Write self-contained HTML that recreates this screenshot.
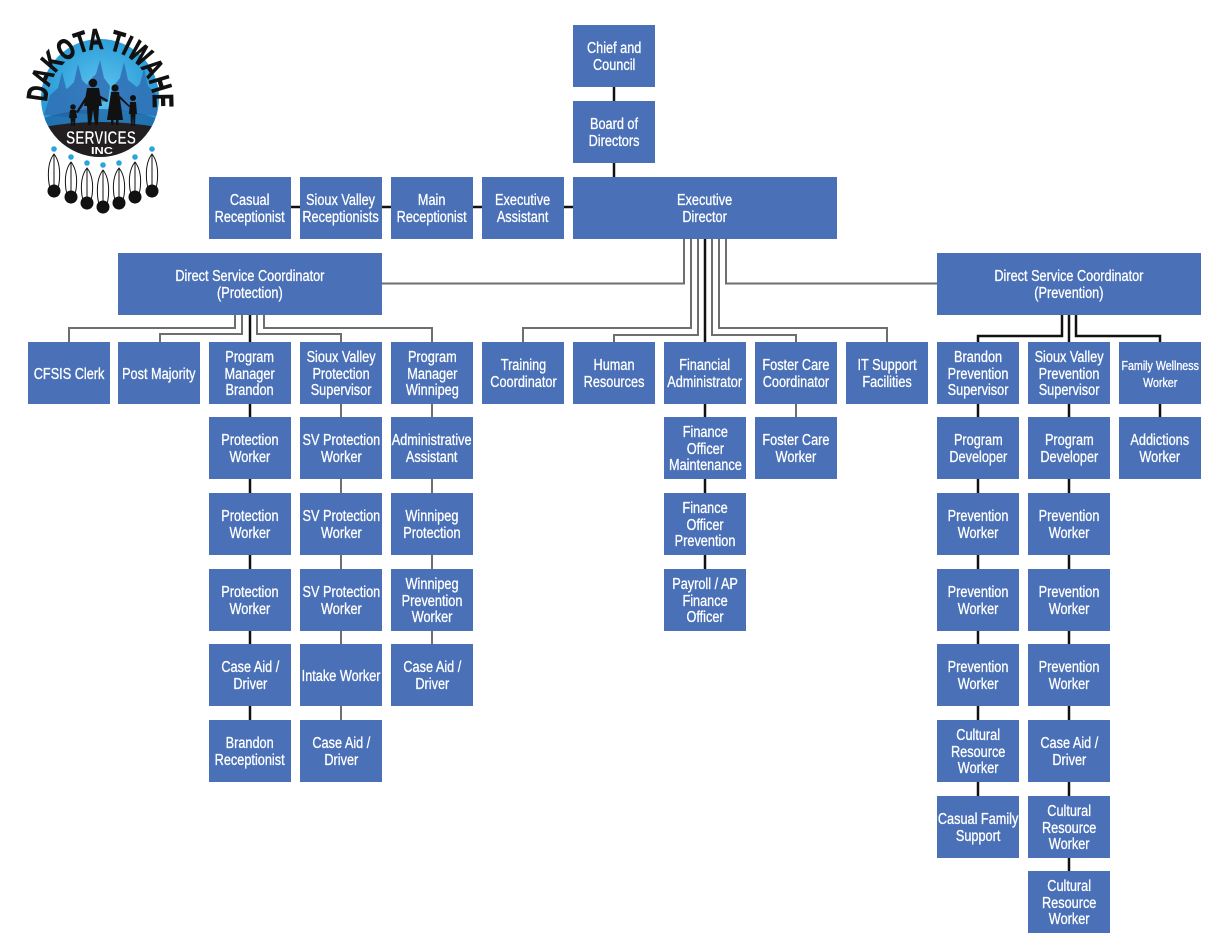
<!DOCTYPE html>
<html><head><meta charset="utf-8">
<style>
html,body{margin:0;padding:0;background:#fff;}
#w{position:relative;width:1227px;height:946px;overflow:hidden;background:#fff;}
.b{position:absolute;background:#4a70b7;display:flex;align-items:center;justify-content:center;color:#fff;font-family:"Liberation Sans",Arial,sans-serif;font-size:15.5px;line-height:16.7px;z-index:1;height:62px;width:82px;}
.b span{display:block;white-space:nowrap;text-align:center;transform:translateY(2px) scaleX(.82);-webkit-text-stroke:0.3px #fff;}
.s span{font-size:13px;}
svg{position:absolute;left:0;top:0;}
</style></head><body><div id="w">
<svg width="1227" height="946" style="z-index:0">
<g fill="none" stroke="#111" stroke-width="2.5">
<polyline points="614,87 614,101"/>
<polyline points="614,163 614,177"/>
<polyline points="260,207 600,207"/>
<polyline points="705,239 705,342"/>
<polyline points="250,315 250,342"/>
<polyline points="1062,315 1062,336 978,336 978,342"/>
<polyline points="1069,315 1069,342"/>
<polyline points="1076,315 1076,336 1160,336 1160,342"/>
<polyline points="250,404 250,720"/>
<polyline points="705,404 705,569"/>
<polyline points="978,404 978,796"/>
<polyline points="1069,404 1069,871"/>
<polyline points="1160,404 1160,417"/>
</g>
<g fill="none" stroke="#6e6e6e" stroke-width="2">
<polyline points="684,239 684,283.5 382,283.5"/>
<polyline points="726,239 726,283.5 937,283.5"/>
<polyline points="691,239 691,328 523,328 523,342"/>
<polyline points="698,239 698,335 614,335 614,342"/>
<polyline points="712,239 712,335 796,335 796,342"/>
<polyline points="719,239 719,328 887,328 887,342"/>
<polyline points="235,315 235,328 69,328 69,342"/>
<polyline points="242,315 242,334 160,334 160,342"/>
<polyline points="257,315 257,334 341,334 341,342"/>
<polyline points="264,315 264,328 432,328 432,342"/>
<polyline points="341,404 341,720"/>
<polyline points="432,404 432,644"/>
<polyline points="796,404 796,417"/>
</g>
</svg>

<svg width="200" height="220" style="z-index:2">
<defs>
<radialGradient id="g" cx="50%" cy="45%" r="60%"><stop offset="0" stop-color="#5ec4ef"/><stop offset="1" stop-color="#1e93d3"/></radialGradient>
<clipPath id="c"><circle cx="100" cy="98" r="59"/></clipPath>
<path id="arc" d="M 47 102 A 53 53 0 1 1 153 102"/>
</defs>
<circle cx="100" cy="98" r="59" fill="url(#g)"/>
<g clip-path="url(#c)">
<g fill="#2f6fb4" opacity="0.85">
<path d="M44 115 L50 95 L58 88 L62 72 L66 88 L74 95 L76 118 Z"/>
<path d="M62 112 L66 90 L74 82 L78 64 L82 80 L90 88 L88 114 Z"/>
<path d="M108 110 L112 88 L120 78 L124 62 L128 80 L138 88 L136 112 Z"/>
<path d="M128 114 L132 92 L140 84 L144 68 L148 86 L156 94 L158 116 Z"/>
<path d="M84 100 L88 82 L96 74 L100 60 L104 78 L110 86 L108 102 Z"/>
</g>
<path d="M38 120 Q100 98 162 120 L162 128 L38 128 Z" fill="#1d5fa0" opacity="0.7"/>
<path d="M38 128 Q100 116 162 128 L162 170 L38 170 Z" fill="#231f20"/>
</g>
<g fill="#111">
<circle cx="93" cy="83" r="4.2"/>
<path d="M87 88 L99 88 L102 106 L99 106 L98 125 L95 125 L93 110 L91 125 L88 125 L87 106 L84 106 Z"/>
<circle cx="115" cy="88" r="3.6"/>
<path d="M111 92 L119 92 L123 120 L107 120 Z"/>
<rect x="111" y="119" width="2.5" height="6"/><rect x="116" y="119" width="2.5" height="6"/>
<circle cx="73" cy="107" r="2.8"/>
<path d="M70 110 L76 110 L77 118 L75.5 118 L75 126 L73.5 126 L73 120 L72.5 126 L71 126 L70.5 118 L69 118 Z"/>
<circle cx="133" cy="98" r="3"/>
<path d="M130 102 L136 102 L137 114 L135.5 114 L135 126 L133.5 126 L133 116 L132.5 126 L131 126 L130.5 114 L129 114 Z"/>
<path d="M76 112 L86 96 L87.5 98 L78 113 Z"/>
<path d="M99 95 L108 100 L107 102 L99 98 Z"/>
<path d="M120 96 L130 106 L129 107 L119 98 Z"/>
</g>
<text font-family="Liberation Sans,sans-serif" font-weight="bold" font-size="29" fill="#111" stroke="#111" stroke-width="1"><textPath href="#arc" textLength="172" lengthAdjust="spacingAndGlyphs">DAKOTA TIWAHE</textPath></text>
<text x="101" y="144" text-anchor="middle" font-family="Liberation Sans,sans-serif" font-weight="bold" font-size="18" fill="#fff" stroke="#000" stroke-width="0.4" textLength="70" lengthAdjust="spacingAndGlyphs">SERVICES</text>
<text x="102" y="154" text-anchor="middle" font-family="Liberation Sans,sans-serif" font-weight="bold" font-size="10" fill="#fff" textLength="22" lengthAdjust="spacingAndGlyphs">INC</text>
<g stroke="#111" stroke-width="1">
<g><path d="M54 154 C62 164,61 187,54 197 C47 187,46 164,54 154 Z" fill="#fff"/><circle cx="54" cy="191" r="6" fill="#111"/><line x1="54" y1="154" x2="54" y2="192"/></g>
<g><path d="M71 162 C79 172,78 193,71 203 C64 193,63 172,71 162 Z" fill="#fff"/><circle cx="71" cy="197" r="6" fill="#111"/><line x1="71" y1="162" x2="71" y2="198"/></g>
<g><path d="M87 168 C95 178,94 199,87 209 C80 199,79 178,87 168 Z" fill="#fff"/><circle cx="87" cy="203" r="6" fill="#111"/><line x1="87" y1="168" x2="87" y2="204"/></g>
<g><path d="M103 170 C111 180,110 203,103 213 C96 203,95 180,103 170 Z" fill="#fff"/><circle cx="103" cy="207" r="6" fill="#111"/><line x1="103" y1="170" x2="103" y2="208"/></g>
<g><path d="M119 168 C127 178,126 199,119 209 C112 199,111 178,119 168 Z" fill="#fff"/><circle cx="119" cy="203" r="6" fill="#111"/><line x1="119" y1="168" x2="119" y2="204"/></g>
<g><path d="M135 162 C143 172,142 193,135 203 C128 193,127 172,135 162 Z" fill="#fff"/><circle cx="135" cy="197" r="6" fill="#111"/><line x1="135" y1="162" x2="135" y2="198"/></g>
<g><path d="M152 154 C160 164,159 187,152 197 C145 187,144 164,152 154 Z" fill="#fff"/><circle cx="152" cy="191" r="6" fill="#111"/><line x1="152" y1="154" x2="152" y2="192"/></g>
</g>
<g fill="#2aa6de">
<circle cx="54" cy="149" r="2.8"/><circle cx="71" cy="157" r="2.8"/><circle cx="87" cy="163" r="2.8"/><circle cx="103" cy="165" r="2.8"/><circle cx="119" cy="163" r="2.8"/><circle cx="135" cy="157" r="2.8"/><circle cx="152" cy="149" r="2.8"/>
</g>
</svg>

<div class="b" style="left:573px;top:25px"><span>Chief and<br>Council</span></div>
<div class="b" style="left:573px;top:101px"><span>Board of<br>Directors</span></div>

<div class="b" style="left:209px;top:177px"><span>Casual<br>Receptionist</span></div>
<div class="b" style="left:300px;top:177px"><span>Sioux Valley<br>Receptionists</span></div>
<div class="b" style="left:391px;top:177px"><span>Main<br>Receptionist</span></div>
<div class="b" style="left:482px;top:177px"><span>Executive<br>Assistant</span></div>
<div class="b" style="left:573px;top:177px;width:264px"><span>Executive<br>Director</span></div>

<div class="b" style="left:118px;top:253px;width:264px"><span>Direct Service Coordinator<br>(Protection)</span></div>
<div class="b" style="left:937px;top:253px;width:264px"><span>Direct Service Coordinator<br>(Prevention)</span></div>

<div class="b" style="left:28px;top:342px"><span>CFSIS Clerk</span></div>
<div class="b" style="left:118px;top:342px"><span>Post Majority</span></div>
<div class="b" style="left:209px;top:342px"><span>Program<br>Manager<br>Brandon</span></div>
<div class="b" style="left:300px;top:342px"><span>Sioux Valley<br>Protection<br>Supervisor</span></div>
<div class="b" style="left:391px;top:342px"><span>Program<br>Manager<br>Winnipeg</span></div>
<div class="b" style="left:482px;top:342px"><span>Training<br>Coordinator</span></div>
<div class="b" style="left:573px;top:342px"><span>Human<br>Resources</span></div>
<div class="b" style="left:664px;top:342px"><span>Financial<br>Administrator</span></div>
<div class="b" style="left:755px;top:342px"><span>Foster Care<br>Coordinator</span></div>
<div class="b" style="left:846px;top:342px"><span>IT Support<br>Facilities</span></div>
<div class="b" style="left:937px;top:342px"><span>Brandon<br>Prevention<br>Supervisor</span></div>
<div class="b" style="left:1028px;top:342px"><span>Sioux Valley<br>Prevention<br>Supervisor</span></div>
<div class="b s" style="left:1119px;top:342px"><span>Family Wellness<br>Worker</span></div>

<div class="b" style="left:209px;top:417px"><span>Protection<br>Worker</span></div>
<div class="b" style="left:300px;top:417px"><span>SV Protection<br>Worker</span></div>
<div class="b" style="left:391px;top:417px"><span>Administrative<br>Assistant</span></div>
<div class="b" style="left:664px;top:417px"><span>Finance<br>Officer<br>Maintenance</span></div>
<div class="b" style="left:755px;top:417px"><span>Foster Care<br>Worker</span></div>
<div class="b" style="left:937px;top:417px"><span>Program<br>Developer</span></div>
<div class="b" style="left:1028px;top:417px"><span>Program<br>Developer</span></div>
<div class="b" style="left:1119px;top:417px"><span>Addictions<br>Worker</span></div>

<div class="b" style="left:209px;top:493px"><span>Protection<br>Worker</span></div>
<div class="b" style="left:300px;top:493px"><span>SV Protection<br>Worker</span></div>
<div class="b" style="left:391px;top:493px"><span>Winnipeg<br>Protection</span></div>
<div class="b" style="left:664px;top:493px"><span>Finance<br>Officer<br>Prevention</span></div>
<div class="b" style="left:937px;top:493px"><span>Prevention<br>Worker</span></div>
<div class="b" style="left:1028px;top:493px"><span>Prevention<br>Worker</span></div>

<div class="b" style="left:209px;top:569px"><span>Protection<br>Worker</span></div>
<div class="b" style="left:300px;top:569px"><span>SV Protection<br>Worker</span></div>
<div class="b" style="left:391px;top:569px"><span>Winnipeg<br>Prevention<br>Worker</span></div>
<div class="b" style="left:664px;top:569px"><span>Payroll / AP<br>Finance<br>Officer</span></div>
<div class="b" style="left:937px;top:569px"><span>Prevention<br>Worker</span></div>
<div class="b" style="left:1028px;top:569px"><span>Prevention<br>Worker</span></div>

<div class="b" style="left:209px;top:644px"><span>Case Aid /<br>Driver</span></div>
<div class="b" style="left:300px;top:644px"><span>Intake Worker</span></div>
<div class="b" style="left:391px;top:644px"><span>Case Aid /<br>Driver</span></div>
<div class="b" style="left:937px;top:644px"><span>Prevention<br>Worker</span></div>
<div class="b" style="left:1028px;top:644px"><span>Prevention<br>Worker</span></div>

<div class="b" style="left:209px;top:720px"><span>Brandon<br>Receptionist</span></div>
<div class="b" style="left:300px;top:720px"><span>Case Aid /<br>Driver</span></div>
<div class="b" style="left:937px;top:720px"><span>Cultural<br>Resource<br>Worker</span></div>
<div class="b" style="left:1028px;top:720px"><span>Case Aid /<br>Driver</span></div>

<div class="b" style="left:937px;top:796px"><span>Casual Family<br>Support</span></div>
<div class="b" style="left:1028px;top:796px"><span>Cultural<br>Resource<br>Worker</span></div>

<div class="b" style="left:1028px;top:871px"><span>Cultural<br>Resource<br>Worker</span></div>
</div></body></html>
